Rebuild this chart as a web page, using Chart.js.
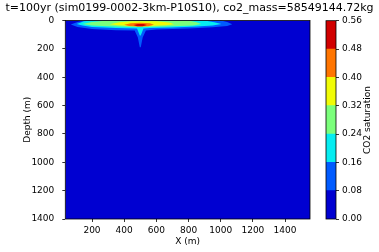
<!DOCTYPE html>
<html>
<head>
<meta charset="utf-8">
<script src="https://cdn.jsdelivr.net/npm/chart.js@4.4.0/dist/chart.umd.min.js"></script>
<style>
body{margin:0;background:#fff;}
#wrap{position:relative;width:379px;height:252px;}
canvas{position:absolute;top:0;}
#main{left:0;}
#cbar{left:300px;}
</style>
</head>
<body>
<div id="wrap">
<canvas id="main" width="379" height="252"></canvas>
<canvas id="cbar" width="79" height="252"></canvas>
</div>
<script>
// contour levels + jet colours, one colour per band
const levels = [0, 0.08, 0.16, 0.24, 0.32, 0.40, 0.48, 0.56];
const bandColors = ['#0000d1','#005bff','#06edf1','#7bff7b','#f1fc06','#ff7500','#d10000'];
const xTicks = [200, 400, 600, 800, 1000, 1200, 1400];
const yTicks = [0, 200, 400, 600, 800, 1000, 1200, 1400];
const xRange = [34, 1555];
const yRange = [0, 1400];

// band outlines, [x (m), depth (m)]
const band0 = [[34,0],[1555,0],[1555,1400],[34,1400],[34,0]];
const band1 = [[68,28],[110,10],[160,0],[1000,0],[1040,10],[1072,26],[1040,38],[950,48],[800,57],[600,64],[535,70],[515,120],[503,188],[497,188],[485,120],[465,70],[350,68],[200,60],[110,46],[68,28]];
const band2 = [[105,24],[150,6],[200,0],[900,0],[960,12],[1005,24],[950,35],[850,43],[700,49],[560,53],[520,57],[503,105],[497,105],[480,57],[350,53],[200,46],[140,36],[105,24]];
const band3 = [[140,25],[200,10],[300,0],[800,0],[850,12],[880,25],[830,35],[700,41],[550,46],[450,46],[300,41],[200,36],[140,25]];
const band4 = [[310,27],[370,12],[450,5],[600,5],[680,14],[710,26],[660,34],[550,39],[450,39],[360,34],[310,27]];
const band5 = [[400,30],[440,19],[500,15],[560,19],[585,30],[550,40],[490,42],[430,38],[400,30]];
const band6 = [[458,32],[485,24],[520,24],[542,32],[515,40],[480,40],[458,32]];
const bands = [band0, band1, band2, band3, band4, band5, band6];

const titleText = 't=100yr (sim0199-0002-3km-P10S10), co2_mass=58549144.72kg';

Chart.defaults.font.family = 'DejaVu Sans';
Chart.defaults.font.size = 9;
Chart.defaults.color = '#000';

// black frame around the axes box
const frame = {
    id: 'frame',
    afterDatasetsDraw(chart) {
        const a = chart.chartArea;
        const ctx = chart.ctx;
        ctx.save();
        ctx.strokeStyle = '#000';
        ctx.lineWidth = 0.8;
        ctx.strokeRect(a.left, a.top, a.right - a.left, a.bottom - a.top);
        ctx.restore();
    }
};

const tickGrid = {display: true, drawOnChartArea: false, drawTicks: true, tickLength: 3, color: '#000', lineWidth: 0.8};

new Chart(document.getElementById('main'), {
    type: 'scatter',
    data: {
        datasets: bands.map((b, i) => ({
            data: b,
            showLine: true,
            fill: 'shape',
            backgroundColor: bandColors[i],
            borderWidth: 0,
            borderColor: bandColors[i],
            pointRadius: 0,
            order: bands.length - i
        }))
    },
    options: {
        responsive: false,
        animation: false,
        layout: {padding: 0},
        plugins: {
            legend: {display: false},
            tooltip: {enabled: false},
            title: {
                display: true,
                text: titleText,
                font: {size: 11, weight: 'normal'},
                padding: {top: 2, bottom: 5.3}
            }
        },
        scales: {
            x: {
                type: 'linear',
                min: xRange[0], max: xRange[1],
                afterBuildTicks: s => { s.ticks = xTicks.map(v => ({value: v})); },
                afterFit: s => { s.height = 33; },
                ticks: {callback: v => String(v), padding: 3, maxRotation: 0},
                grid: tickGrid,
                border: {display: false},
                title: {display: true, text: 'X (m)', padding: {top: 0, bottom: 4.6}}
            },
            y: {
                type: 'linear',
                reverse: true,
                min: yRange[0], max: yRange[1],
                afterBuildTicks: s => { s.ticks = yTicks.map(v => ({value: v})); },
                afterFit: s => { s.width = 65.3; },
                ticks: {callback: v => String(v), padding: 8},
                grid: tickGrid,
                border: {display: false},
                title: {display: true, text: 'Depth (m)', padding: {top: 22.6, bottom: 0}}
            },
            spacer: {
                type: 'linear',
                position: 'right',
                display: true,
                afterFit: s => { s.width = 69; },
                ticks: {display: false},
                grid: {display: false},
                border: {display: false}
            }
        }
    },
    plugins: [frame]
});

// colour bar
const cbarLabel = {
    id: 'cbarLabel',
    afterDraw(chart) {
        const ctx = chart.ctx;
        ctx.save();
        ctx.translate(68, 120);
        ctx.rotate(-Math.PI / 2);
        ctx.font = '9px "DejaVu Sans"';
        ctx.fillStyle = '#000';
        ctx.textAlign = 'center';
        ctx.textBaseline = 'middle';
        ctx.fillText('CO2 saturation', 0, 0);
        ctx.restore();
    }
};

new Chart(document.getElementById('cbar'), {
    type: 'bar',
    data: {
        labels: [''],
        datasets: bandColors.map((c, i) => ({
            data: [levels[i + 1] - levels[i]],
            backgroundColor: c,
            borderWidth: 0,
            categoryPercentage: 1,
            barPercentage: 1
        }))
    },
    options: {
        responsive: false,
        animation: false,
        layout: {padding: {left: 26, top: 20.7, bottom: 33, right: 0}},
        plugins: {legend: {display: false}, tooltip: {enabled: false}},
        scales: {
            x: {stacked: true, display: false},
            y: {
                stacked: true,
                position: 'right',
                min: levels[0], max: levels[levels.length - 1],
                afterBuildTicks: s => { s.ticks = levels.map(v => ({value: v})); },
                afterFit: s => { s.width = 43; },
                ticks: {callback: v => v.toFixed(2), padding: 3},
                grid: tickGrid,
                border: {display: false}
            }
        }
    },
    plugins: [frame, cbarLabel]
});
</script>
</body>
</html>
